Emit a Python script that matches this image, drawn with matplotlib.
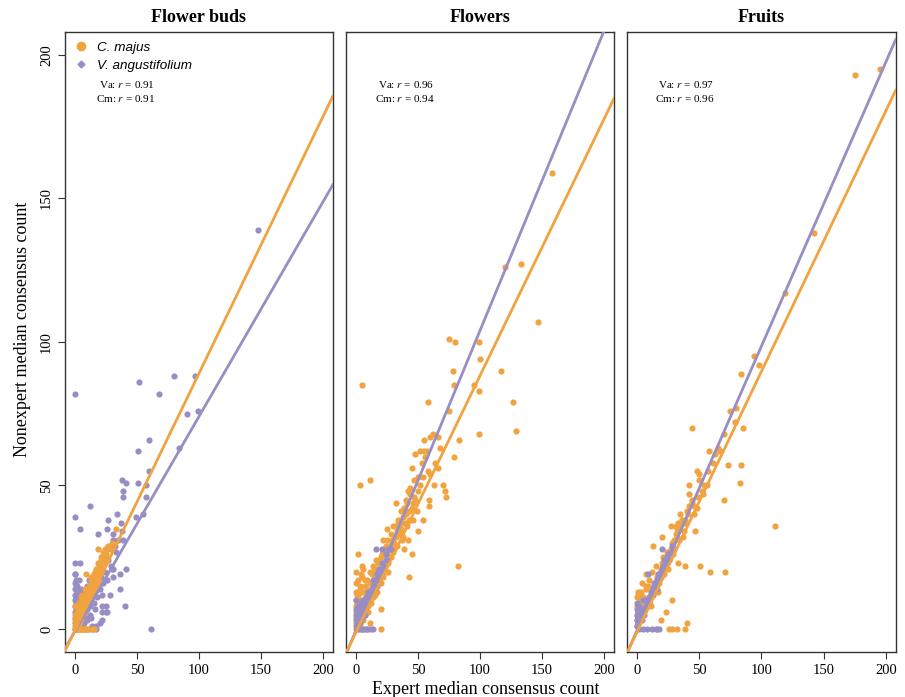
import numpy as np
import matplotlib.pyplot as plt
from matplotlib.lines import Line2D

plt.rcParams['font.family'] = ['Liberation Serif', 'DejaVu Serif']
plt.rcParams['mathtext.fontset'] = 'stix'

ORANGE = '#f1a340'
PURPLE = '#998ec3'

titles = ['Flower buds', 'Flowers', 'Fruits']
r_va = ['0.91', '0.96', '0.97']
r_cm = ['0.91', '0.94', '0.96']

# fitted lines (slope, intercept)
fit_cm = [(0.895, -0.5), (0.894, -1.2), (0.908, -1.1)]
fit_va = [(0.748, -0.8), (1.044, -0.5), (0.99, -0.5)]

# ---- Flower buds
bud_cm_x = [0, 0, 0, 0, 1, 1, 1, 2, 2, 2, 3, 3, 3, 4, 4, 4, 5, 5, 5, 6, 6, 6, 7, 7, 7, 8, 8, 8, 9, 9,
            10, 10, 10, 11, 11, 12, 12, 13, 13, 14, 14, 15, 15, 16, 16, 17, 18, 18, 19, 20, 20, 21, 22,
            23, 24, 25, 26, 28, 30, 33, 0, 1, 2, 3, 4, 5, 6, 7, 8, 9, 10, 14, 15, 19, 21, 24,
            9, 11, 13, 15, 17, 19, 21, 23, 25, 27, 12, 14, 16, 18, 20, 22, 6, 8, 3, 5, 13, 16]
bud_cm_y = [1, 3, 5, 8, 0, 2, 4, 1, 3, 6, 2, 4, 7, 3, 5, 8, 4, 6, 9, 5, 7, 10, 6, 8, 11, 7, 9, 12, 8, 10,
            9, 11, 13, 10, 12, 11, 14, 12, 15, 13, 16, 14, 17, 15, 18, 16, 17, 20, 18, 19, 22, 20, 21,
            24, 23, 28, 24, 28, 30, 35, 0, 0, 0, 0, 0, 0, 0, 0, 0, 0, 0, 0, 0, 28, 25, 28,
            19, 15, 17, 19, 21, 23, 24, 27, 26, 29, 10, 12, 14, 21, 16, 25, 12, 14, 9, 11, 18, 20]
bud_va_x = [0, 0, 0, 0, 0, 0, 0, 0, 0, 0, 0, 1, 1, 1, 1, 2, 2, 2, 3, 3, 3, 4, 4, 5, 5, 5, 6, 6, 7, 7,
            8, 8, 9, 9, 10, 10, 11, 11, 12, 12, 13, 14, 15, 16, 17, 18, 19, 20, 21, 22, 24, 25, 26, 27,
            28, 30, 31, 33, 35, 36, 38, 2, 5, 8, 11, 14, 17, 20, 22,
            0, 52, 80, 97, 68, 90, 99, 60, 51, 84, 60, 38, 41, 51, 57, 39, 39, 57, 12, 0, 4, 34, 27, 37,
            49, 55, 26, 19, 61, 4, 0, 41, 36, 40, 31, 28, 25, 22, 22, 17, 14, 31, 32, 31, 39, 148,
            1, 2, 3, 1, 2, 3, 4, 1, 2, 6, 7, 9, 10, 12, 15, 16, 18, 20, 23, 24, 26, 29, 13, 7, 5, 3]
bud_va_y = [2, 4, 6, 8, 10, 12, 14, 16, 19, 23, 0, 3, 7, 11, 15, 5, 9, 13, 2, 6, 12, 1, 8, 3, 10, 14, 5,
            12, 2, 9, 6, 13, 4, 11, 7, 15, 9, 17, 5, 13, 11, 16, 12, 18, 14, 20, 16, 22, 18, 12, 25, 8,
            6, 24, 29, 21, 33, 27, 31, 19, 34, 0, 0, 0, 0, 0, 0, 2, 8,
            82, 86, 88, 88, 82, 75, 76, 66, 62, 63, 55, 52, 51, 51, 50, 48, 46, 46, 43, 39, 35, 40, 38, 37,
            39, 40, 35, 33, 0, 23, 19, 21, 14, 8, 18, 12, 6, 6, 3, 1, 1, 21, 29, 31, 31, 139,
            9, 11, 13, 17, 15, 17, 11, 5, 7, 9, 11, 10, 3, 8, 9, 7, 11, 14, 16, 20, 17, 22, 4, 4, 1, 2]

# ---- Flowers
flw_cm_x = [0, 0, 0, 0, 0, 0, 0, 0, 1, 1, 1, 2, 2, 2, 3, 3, 3, 4, 4, 5, 5, 6, 6, 7, 7, 8, 8, 9, 9, 10,
            10, 11, 11, 12, 12, 13, 13, 14, 14, 15, 15, 16, 16, 17, 17, 18, 18, 19, 20, 20, 21, 22, 22,
            23, 24, 25, 25, 26, 27, 28, 28, 29, 30, 30, 31, 32, 33, 34, 35, 36, 37, 38, 39, 40, 41, 43,
            44, 46, 0, 2, 4, 6, 8, 25, 22, 34, 40, 43, 46, 33,
            158, 133, 120, 147, 75, 80, 99, 100, 117, 78, 79, 95, 99, 5, 58, 75, 127, 129, 99, 83, 55, 60,
            62, 66, 57, 52, 55, 79, 48, 45, 50, 54, 58, 60, 66, 63, 70, 72, 73, 3, 11, 42, 44, 40, 32, 48,
            59, 49, 54, 59, 82, 43, 45, 39, 42, 50, 2, 5, 20, 20, 11,
            1, 3, 5, 7, 9, 11, 13, 15, 17, 19, 21, 23, 27, 29, 31, 33, 35, 37, 39, 41, 45, 47, 50, 52,
            2, 4, 6, 8, 10, 12, 14, 16, 18, 24, 26, 36, 38, 44, 56, 64, 68, 53, 47]
flw_cm_y = [2, 4, 6, 8, 10, 13, 16, 20, 1, 5, 9, 3, 7, 12, 2, 6, 14, 4, 10, 5, 18, 3, 9, 7, 15, 6, 11, 9,
            17, 8, 13, 10, 20, 12, 16, 11, 19, 14, 22, 12, 18, 15, 24, 13, 20, 17, 23, 19, 16, 25, 21, 18,
            27, 22, 20, 26, 31, 23, 28, 25, 33, 30, 27, 36, 30, 32, 29, 38, 33, 35, 31, 39, 37, 40, 36, 41,
            38, 44, 0, 0, 0, 0, 0, 35, 31, 37, 37, 38, 38, 36,
            159, 127, 126, 107, 101, 100, 100, 94, 90, 90, 85, 85, 83, 85, 79, 76, 79, 69, 68, 66, 66, 67,
            68, 67, 62, 62, 62, 60, 61, 56, 53, 53, 55, 54, 56, 50, 50, 48, 46, 50, 52, 48, 47, 45, 44, 45,
            45, 41, 38, 43, 22, 18, 26, 28, 31, 34, 26, 22, 0, 7, 2,
            12, 15, 13, 17, 14, 16, 20, 21, 19, 24, 26, 27, 29, 31, 28, 34, 36, 34, 42, 44, 42, 46, 48, 50,
            17, 19, 21, 13, 6, 9, 11, 17, 21, 29, 20, 41, 32, 49, 60, 58, 63, 58, 52]
flw_va_x = [0, 0, 0, 0, 0, 1, 1, 2, 2, 3, 3, 4, 4, 5, 5, 6, 6, 7, 8, 8, 9, 10, 10, 11, 12, 13, 14, 15,
            16, 17, 18, 19, 20, 21, 22, 24, 26, 28, 2, 4, 6, 8, 10, 12, 14, 16, 21,
            1, 2, 3, 4, 5, 6, 7, 9, 11, 13, 15, 17, 19, 23, 25, 14, 18]
flw_va_y = [1, 3, 5, 7, 10, 2, 6, 3, 8, 2, 5, 4, 9, 5, 7, 6, 10, 7, 8, 11, 9, 10, 13, 12, 13, 14, 15, 16,
            17, 19, 18, 21, 20, 23, 22, 26, 28, 28, 0, 0, 0, 0, 0, 0, 0, 28, 28,
            4, 5, 6, 7, 4, 8, 5, 10, 11, 13, 14, 15, 17, 21, 24, 17, 20]

# ---- Fruits
fru_cm_x = [0, 0, 0, 0, 0, 1, 1, 2, 2, 3, 3, 4, 4, 5, 5, 6, 7, 7, 8, 9, 10, 10, 11, 12, 12, 13, 14, 15,
            15, 16, 17, 18, 19, 20, 21, 22, 23, 24, 25, 26, 27, 28, 29, 30, 31, 32, 33, 34, 35, 36, 38,
            40, 42,
            175, 195, 142, 119, 94, 98, 84, 75, 80, 79, 85, 44, 70, 58, 65, 73, 84, 83, 70, 111, 48, 50, 56,
            42, 42, 52, 53, 49, 44, 48, 46, 35, 39, 27, 33, 47, 13, 20, 39, 51, 59, 71, 33, 28, 23, 19, 40,
            39, 32, 28, 26, 16, 7, 1, 1, 7,
            2, 4, 6, 8, 10, 12, 14, 16, 18, 20, 22, 24, 26, 28, 30, 32, 34, 36, 38, 41, 44, 46, 50, 54,
            57, 61, 63, 67, 3, 9, 11, 17, 21, 25, 29, 37, 31]
fru_cm_y = [1, 3, 5, 8, 11, 2, 6, 3, 9, 4, 13, 5, 16, 6, 11, 7, 8, 14, 9, 10, 11, 17, 12, 13, 20, 14, 15,
            16, 22, 17, 18, 19, 21, 20, 22, 23, 25, 24, 26, 27, 28, 27, 30, 31, 33, 32, 34, 36, 35, 38, 37,
            41, 43,
            193, 195, 138, 117, 95, 92, 89, 76, 77, 72, 70, 70, 68, 62, 63, 57, 57, 51, 45, 36, 55, 54, 50,
            50, 47, 48, 47, 46, 44, 42, 40, 40, 38, 36, 37, 34, 29, 32, 22, 22, 20, 20, 23, 10, 6, 3, 2,
            0, 0, 0, 0, 0, 19, 12, 13, 15,
            4, 6, 8, 10, 9, 14, 13, 18, 16, 23, 19, 27, 24, 30, 28, 35, 31, 38, 34, 40, 45, 43, 52, 50,
            55, 58, 61, 62, 10, 15, 8, 13, 25, 21, 26, 32, 36]
fru_va_x = [0, 0, 0, 0, 0, 1, 1, 2, 2, 3, 3, 4, 5, 5, 6, 7, 8, 9, 10, 11, 12, 13, 14, 15, 16, 17, 18, 19,
            20, 21, 22, 24, 25, 27, 9, 20, 2, 5, 8, 12, 15, 18,
            1, 2, 3, 4, 6, 7, 10, 11, 13, 14, 16, 17, 19, 23, 26, 28]
fru_va_y = [1, 3, 5, 7, 9, 2, 6, 3, 8, 4, 7, 5, 6, 10, 7, 8, 9, 10, 11, 12, 13, 14, 15, 16, 17, 18, 19, 20,
            21, 22, 24, 25, 26, 27, 19, 28, 0, 0, 0, 0, 0, 0,
            4, 5, 6, 3, 5, 10, 9, 13, 12, 16, 14, 19, 18, 23, 24, 29]

cm_data = [(bud_cm_x, bud_cm_y), (flw_cm_x, flw_cm_y), (fru_cm_x, fru_cm_y)]
va_data = [(bud_va_x, bud_va_y), (flw_va_x, flw_va_y), (fru_va_x, fru_va_y)]

fig = plt.figure(figsize=(9.05, 6.97), dpi=100)
lefts = [0.0718, 0.3823, 0.6928]
widths = [0.296, 0.296, 0.297]
text_x = [0.127, 0.12, 0.115]
axes = []
for i in range(3):
    ax = fig.add_axes([lefts[i], 0.0646, widths[i], 0.8895])
    axes.append(ax)
    if i == 0:
        ax.scatter(*va_data[i], s=20, color=PURPLE, linewidths=0, zorder=2)
        ax.scatter(*cm_data[i], s=20, color=ORANGE, linewidths=0, zorder=2)
    else:
        ax.scatter(*cm_data[i], s=20, color=ORANGE, linewidths=0, zorder=2)
        ax.scatter(*va_data[i], s=20, color=PURPLE, linewidths=0, zorder=2)
    ax.axline((0, fit_va[i][1]), slope=fit_va[i][0], color=PURPLE, lw=2, zorder=3)
    ax.axline((0, fit_cm[i][1]), slope=fit_cm[i][0], color=ORANGE, lw=2, zorder=3)
    ax.set_xlim(-8, 208)
    ax.set_ylim(-8, 208)
    ax.set_xticks([0, 50, 100, 150, 200])
    ax.set_yticks([0, 50, 100, 150, 200])
    ax.tick_params(direction='out', length=5, labelsize=10.5, color='#333333')
    for sp in ax.spines.values():
        sp.set_color('#333333')
        sp.set_linewidth(1)
    if i == 0:
        for lab in ax.get_yticklabels():
            lab.set_rotation(90)
            lab.set_va('center')
    else:
        ax.tick_params(axis='y', left=False, labelleft=False)
    ax.set_title(titles[i], fontsize=13, fontweight='bold', pad=7)
    ax.text(text_x[i], 0.916, 'Va: $r$ = ' + r_va[i], transform=ax.transAxes, fontsize=8,
            ha='left', va='center')
    ax.text(text_x[i] - 0.011, 0.893, 'Cm: $r$ = ' + r_cm[i], transform=ax.transAxes, fontsize=8,
            ha='left', va='center')

handles = [Line2D([], [], ls='', marker='o', ms=6, color=ORANGE),
           Line2D([], [], ls='', marker='D', ms=3.5, color=PURPLE)]
axes[0].legend(handles, ['C. majus', 'V. angustifolium'], loc='upper left', frameon=False,
               prop={'family': 'Liberation Sans', 'style': 'italic', 'size': 9.7},
               handletextpad=0.7, borderaxespad=0.3, labelspacing=0.4, handlelength=1.0)

fig.text(0.025, 0.527, 'Nonexpert median consensus count', rotation=90, va='center', ha='center',
         fontsize=13)
fig.text(0.537, -0.002, 'Expert median consensus count', ha='center', va='bottom', fontsize=13)

fig.savefig('out.png', dpi=100)
